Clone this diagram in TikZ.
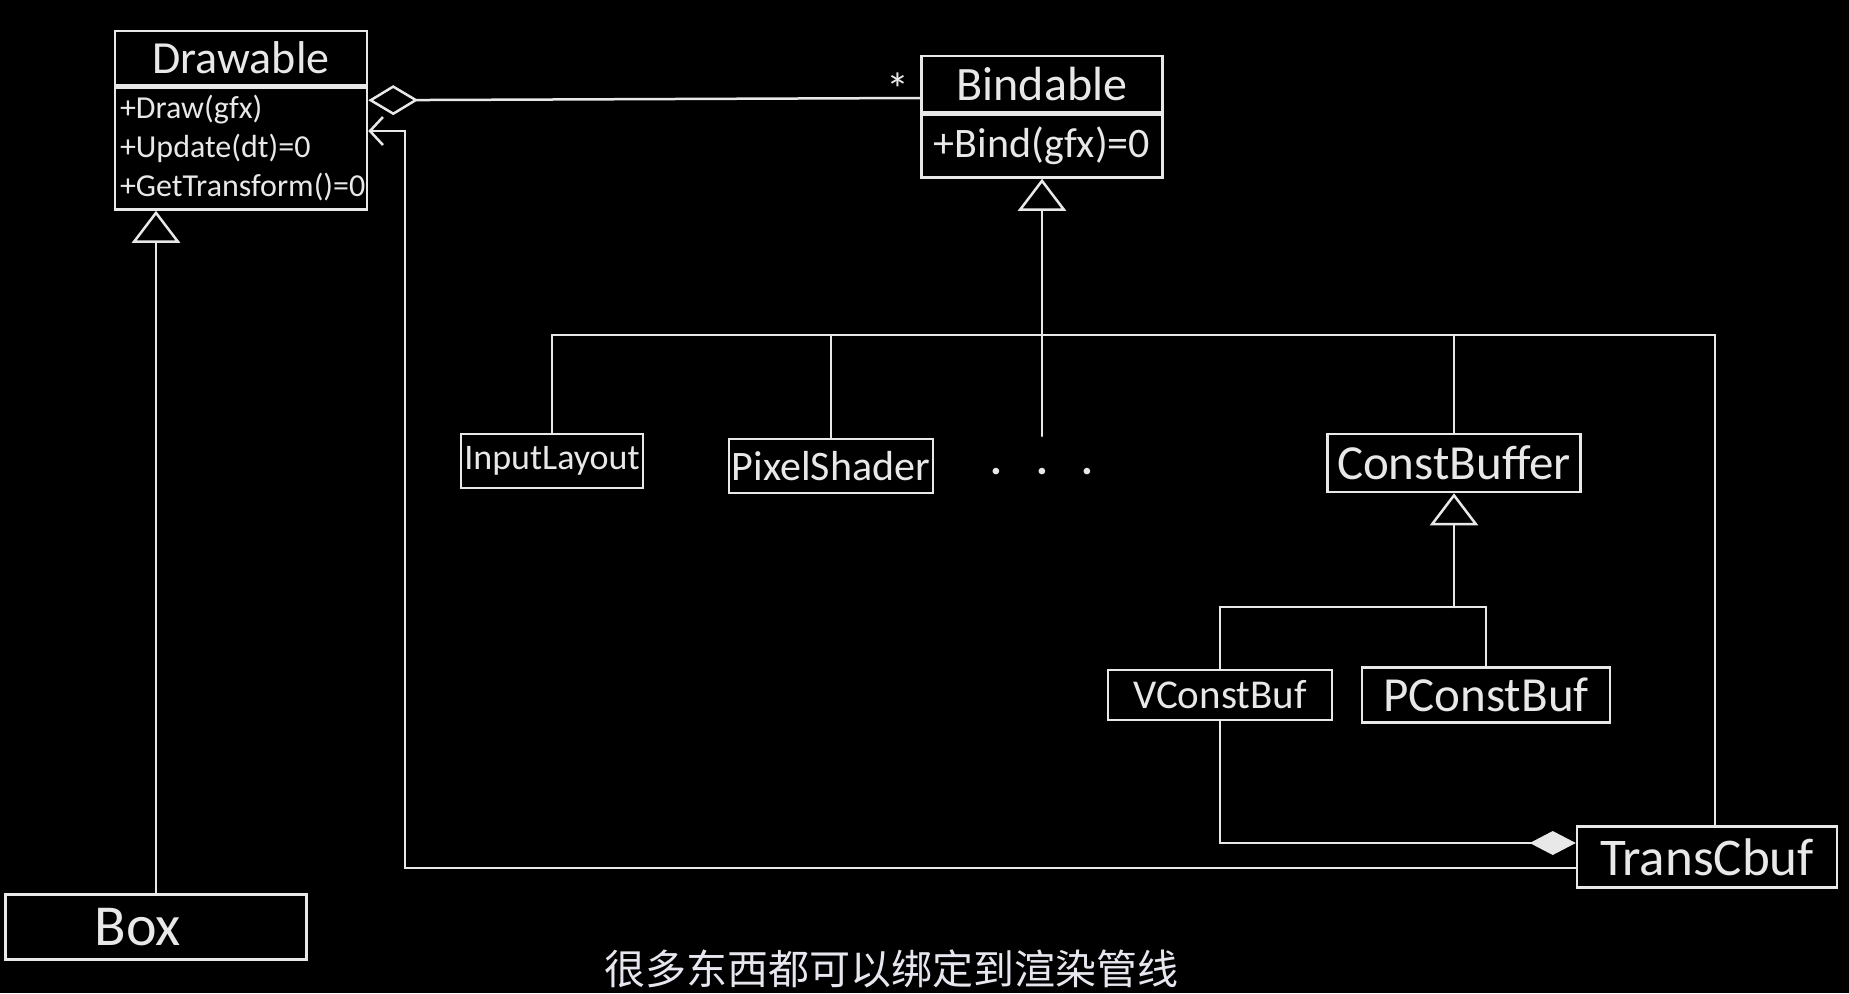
\documentclass[tikz,border=0pt]{standalone}
\usepackage{fontspec}
\setmainfont{Carlito}
\newfontfamily\cjk{Noto Sans CJK SC}
\usetikzlibrary{arrows.meta,positioning,calc}
\definecolor{board}{HTML}{000000}
\definecolor{chalk}{HTML}{E8E8E8}
\definecolor{subfill}{HTML}{E6E6EE}

\begin{document}
\begin{tikzpicture}[x=1pt,y=-1pt,line width=2.5pt,
  cls/.style={draw=chalk,text=chalk,inner sep=0pt,font=\fontsize{#1}{#1}\selectfont},
  wire/.style={draw=chalk,line cap=round},
  inh/.style={wire,-{Triangle[open,length=32pt,width=48pt]}},
  agg/.style={wire,{Diamond[open,length=50pt,width=30pt]}-},
  comp/.style={wire,-{Diamond[fill=chalk,length=46pt,width=24pt]}},
  dep/.style={wire,-{Straight Barb[length=13pt,width=28pt]}}]
  \fill[board] (0,0) rectangle (1849,993);

  % classes
  \node[cls=46,minimum width=252pt,minimum height=54pt] (Draw) at (241,58) {Drawable};
  \node[cls=32,below=0pt of Draw,font=\fontsize{32}{39}\selectfont,inner xsep=5pt,
    minimum height=122pt,text width=242pt,align=left] (Drawm)
    {+Draw(gfx)\\+Update(dt)=0\\+GetTransform()=0};
  \node[cls=48,minimum width=241pt,minimum height=56pt] (Bind) at (1042,84) {Bindable};
  \node[cls=42,below=0pt of Bind,minimum width=241pt,minimum height=63pt] (Bindm) {+Bind(gfx)=0};

  \node[cls=36,minimum width=182pt,minimum height=54pt] (InL) at (552,461) {InputLayout};
  \node[cls=42,minimum width=204pt,minimum height=54pt] (PixS) at (831,466) {PixelShader};
  \node[cls=44,draw=none] (more) at (1042,472) {\textbf{.\hspace{34pt}.\hspace{34pt}.}};
  \node[cls=49,minimum width=253pt,minimum height=58pt] (CBuf) at (1454,463) {ConstBuffer};
  \node[cls=41,minimum width=224pt,minimum height=50pt] (VCB) at (1220,695) {VConstBuf};
  \node[cls=49,minimum width=248pt,minimum height=55pt] (PCB) at (1486,695) {PConstBuf};
  \node[cls=53,minimum width=260pt,minimum height=61pt] (TCB) at (1707,857) {TransCbuf};
  \node[cls=58,minimum width=301pt,minimum height=65pt] (Box) at (156,927) {Box\kern36pt};

  \coordinate (bus) at (0,335);
  \coordinate (bus2) at (0,607);
  \coordinate (stemend) at (0,436);
  \coordinate (turn) at (405,131);

  % Bindable tree
  \draw[wire] (InL.north |- bus) -- ([xshift=8pt]TCB.north |- bus);
  \foreach \n in {InL,PixS,CBuf}
    \draw[wire] (\n.north) -- (\n.north |- bus);
  \draw[wire] ([xshift=8pt]TCB.north) -- ([xshift=8pt]TCB.north |- bus);
  \draw[inh] (Bindm.south |- stemend) -- (Bindm.south);

  % ConstBuffer tree
  \draw[wire] (VCB.north |- bus2) -- (PCB.north |- bus2);
  \draw[wire] (VCB.north) -- (VCB.north |- bus2);
  \draw[wire] (PCB.north) -- (PCB.north |- bus2);
  \draw[inh] (CBuf.south |- bus2) -- (CBuf.south);

  \draw[inh] (Box.north) -- (Box.north |- Drawm.south);

  \draw[agg] ([yshift=-14pt]Drawm.north east) -- ([yshift=-14pt]Bind.west)
    node[pos=0.96,above=-12pt,text=chalk,font=\fontsize{46}{46}\selectfont] {*};
  \draw[comp] (VCB.south) |- ([yshift=14pt]TCB.west);
  \draw[dep] ([yshift=-11pt]TCB.west) -| (turn) -- (turn -| Drawm.east);

  \node[text=subfill,font=\cjk\fontsize{41}{41}\selectfont] (sub) at (891,969) {很多东西都可以绑定到渲染管线};
\end{tikzpicture}
\end{document}
